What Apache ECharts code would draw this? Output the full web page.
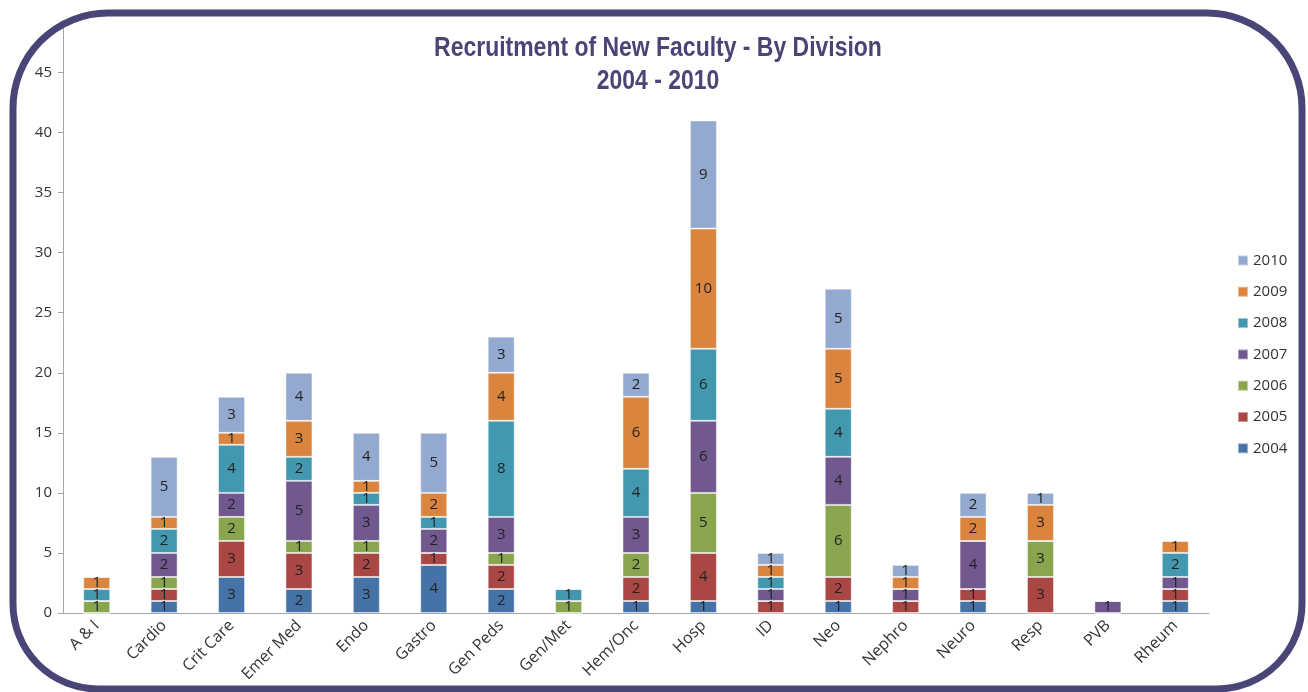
<!DOCTYPE html>
<html>
<head>
<meta charset="utf-8">
<script src="https://cdn.jsdelivr.net/npm/echarts@6/dist/echarts.min.js"></script>
<style>
  html, body { margin: 0; padding: 0; background: #ffffff; }
  #chart { width: 1308px; height: 692px; }
</style>
</head>
<body>
<div id="chart"></div>
<script>
const divisions = ["A & I", "Cardio", "Crit Care", "Emer Med", "Endo", "Gastro", "Gen Peds", "Gen/Met",
  "Hem/Onc", "Hosp", "ID", "Neo", "Nephro", "Neuro", "Resp", "PVB", "Rheum"];

const y2004 = [0, 1, 3, 2, 3, 4, 2, 0, 1, 1, 0, 1, 0, 1, 0, 0, 1];
const y2005 = [0, 1, 3, 3, 2, 1, 2, 0, 2, 4, 1, 2, 1, 1, 3, 0, 1];
const y2006 = [1, 1, 2, 1, 1, 0, 1, 1, 2, 5, 0, 6, 0, 0, 3, 0, 0];
const y2007 = [0, 2, 2, 5, 3, 2, 3, 0, 3, 6, 1, 4, 1, 4, 0, 1, 1];
const y2008 = [1, 2, 4, 2, 1, 1, 8, 1, 4, 6, 1, 4, 0, 0, 0, 0, 2];
const y2009 = [1, 1, 1, 3, 1, 2, 4, 0, 6, 10, 1, 5, 1, 2, 3, 0, 1];
const y2010 = [0, 5, 3, 4, 4, 5, 3, 0, 2, 9, 1, 5, 1, 2, 1, 0, 0];

const years = [
  { name: "2004", values: y2004, color: "#4573a7" },
  { name: "2005", values: y2005, color: "#aa4644" },
  { name: "2006", values: y2006, color: "#89a54e" },
  { name: "2007", values: y2007, color: "#71588f" },
  { name: "2008", values: y2008, color: "#4198af" },
  { name: "2009", values: y2009, color: "#db843d" },
  { name: "2010", values: y2010, color: "#93a9cf" }
];

const legendOrder = ["2010", "2009", "2008", "2007", "2006", "2005", "2004"];
const titleLines = ["Recruitment of New Faculty - By Division", "2004 - 2010"];

const chart = echarts.init(document.getElementById("chart"));

// condensed bold look for the title: no narrow font installed, so squeeze it
const titleStyle = {
  fontFamily: "Liberation Sans",
  fontWeight: "bold",
  fontSize: 28,
  fill: "#4b4577",
  textAlign: "center",
  textVerticalAlign: "middle"
};

chart.setOption({
  animation: false,
  backgroundColor: "#ffffff",
  legend: {
    data: legendOrder,
    orient: "vertical",
    left: 1232,
    top: 248,
    itemWidth: 10,
    itemHeight: 10,
    itemGap: 16.3,
    icon: "rect",
    textStyle: { fontFamily: "Open Sans", fontSize: 15, color: "#333333" }
  },
  grid: { left: 63, right: 99, top: 28, bottom: 79 },
  xAxis: {
    type: "category",
    data: divisions,
    axisLine: { lineStyle: { color: "#a6a6a6" } },
    axisTick: { length: 5, lineStyle: { color: "#a6a6a6" } },
    axisLabel: {
      rotate: 45,
      margin: 10,
      fontFamily: "Open Sans",
      fontSize: 16,
      color: "#333333",
      interval: 0
    }
  },
  yAxis: {
    type: "value",
    min: 0,
    max: 48.7,
    interval: 5,
    splitLine: { show: false },
    axisLine: { show: true, lineStyle: { color: "#a6a6a6" } },
    axisTick: { show: true, length: 5, lineStyle: { color: "#a6a6a6" } },
    axisLabel: {
      fontFamily: "Open Sans",
      fontSize: 15,
      color: "#333333",
      margin: 11,
      formatter: (v) => (v % 5 === 0 ? String(v) : "")
    }
  },
  series: years.map((y) => ({
    name: y.name,
    type: "bar",
    stack: "total",
    barWidth: 27,
    data: y.values,
    itemStyle: { color: y.color, borderColor: "rgba(255,255,255,0.45)", borderWidth: 1 },
    label: {
      show: true,
      position: "inside",
      fontFamily: "Open Sans",
      fontSize: 15,
      color: "#222222",
      formatter: (p) => (p.value ? String(p.value) : "")
    }
  })),
  graphic: [
    {
      type: "text",
      x: 658,
      y: 48,
      scaleX: 0.82,
      silent: true,
      style: Object.assign({ text: titleLines[0] }, titleStyle)
    },
    {
      type: "text",
      x: 658,
      y: 81,
      scaleX: 0.82,
      silent: true,
      style: Object.assign({ text: titleLines[1] }, titleStyle)
    },
    {
      type: "rect",
      z: 100,
      silent: true,
      shape: { x: 13, y: 13, width: 1289, height: 676, r: [95, 95, 85, 85] },
      style: { fill: "none", stroke: "#4a4577", lineWidth: 7 }
    }
  ]
});
</script>
</body>
</html>
